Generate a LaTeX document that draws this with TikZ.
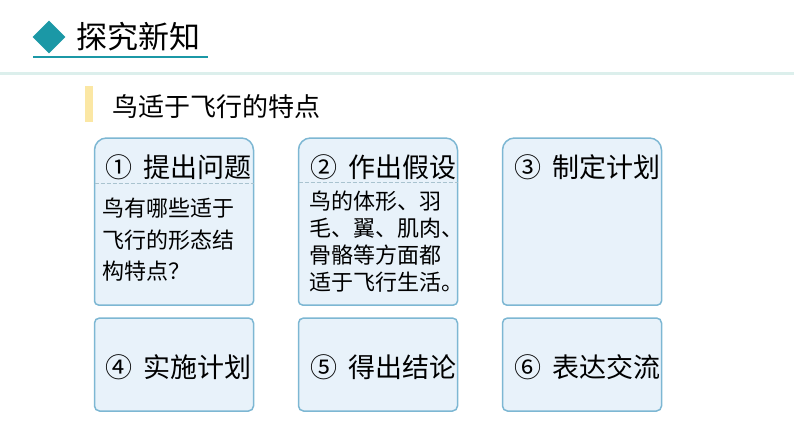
\documentclass[tikz,border=0pt]{standalone}
\usepackage{fontspec}
\setmainfont{Noto Sans CJK SC}
\usepackage{xcolor}
\definecolor{teal1}{HTML}{1B98A6}
\definecolor{lineteal}{HTML}{DCEFEC}
\definecolor{baryellow}{HTML}{FBE7A4}
\definecolor{boxfill}{HTML}{E8F2FA}
\definecolor{boxline}{HTML}{7DB7D3}
\definecolor{dashline}{HTML}{A9C3CF}
\tikzset{
  area/.style={minimum width=159pt,inner sep=0pt,outer sep=0pt},
  frame/.style={draw=boxline,line width=1.5pt,fill=boxfill},
  head/.style={anchor=west,inner sep=0pt,font=\fontsize{27}{27}\selectfont},
  body/.style={anchor=north west,inner sep=0pt,align=left}
}
\begin{document}
\begin{tikzpicture}[x=1pt,y=-1pt]
	\useasboundingbox (0,0) rectangle (794,447);
	\node[fill=teal1,minimum size=23pt,inner sep=0pt,rotate=45] (diamond) at (49,37) {};
	\node[anchor=west,inner sep=0pt,font=\fontsize{31}{31}\selectfont] (title) at (76,37) {探究新知};
	\coordinate (ul) at (33,57);
	\draw[teal1,line width=2pt] (ul) -- (ul -| title.east) -- ++(8,0);
	\fill[lineteal] (0,72) rectangle (794,75);
	\fill[baryellow] (85,86) rectangle (93,122);
	\node[anchor=west,inner sep=0pt,font=\fontsize{26}{26}\selectfont] (topic) at (112,107) {鸟适于飞行的特点};
	\node[area,minimum height=167pt] (b1) at (174,221.5) {};
	\node[area,minimum height=167pt] (b2) at (378,221.5) {};
	\node[area,minimum height=167pt] (b3) at (582,221.5) {};
	\node[area,minimum height=93pt] (b4) at (174,364.5) {};
	\node[area,minimum height=93pt] (b5) at (378,364.5) {};
	\node[area,minimum height=93pt] (b6) at (582,364.5) {};
	\foreach \b in {b1,b2,b3}
		\draw[frame] (\b.east) [rounded corners=4pt] -- (\b.south east) -- (\b.south west) -- (\b.west) [rounded corners=12pt] -- (\b.north west) -- (\b.north east) -- cycle;
	\foreach \b in {b4,b5,b6}
		\draw[frame,rounded corners=5pt] (\b.north west) rectangle (\b.south east);
	\draw[dashline,dash pattern=on 4pt off 2pt,line width=0.8pt] (b1.west |- 0,183) -- (b1.east |- 0,183);
	\draw[dashline,dash pattern=on 4pt off 2pt,line width=0.8pt] (b2.west |- 0,182) -- (b2.east |- 0,182);
	\node[head] (h1) at (105,167) {①\hspace{11pt}提出问题};
	\node[head] (h2) at (310,167) {②\hspace{11pt}作出假设};
	\node[head] (h3) at (514,167) {③\hspace{11pt}制定计划};
	\node[head] (h4) at (105,367) {④\hspace{11pt}实施计划};
	\node[head] (h5) at (310,367) {⑤\hspace{11pt}得出结论};
	\node[head] (h6) at (514,367) {⑥\hspace{11pt}表达交流};
	\node[body,font=\fontsize{22}{31.5}\selectfont] (t1) at (102,198) {鸟有哪些适于\\飞行的形态结\\构特点？};
	\node[body,font=\fontsize{22}{27}\selectfont] (t2) at (309,191) {鸟的体形、羽\\毛、翼、肌肉、\\骨骼等方面都\\适于飞行生活。};
\end{tikzpicture}
\end{document}
